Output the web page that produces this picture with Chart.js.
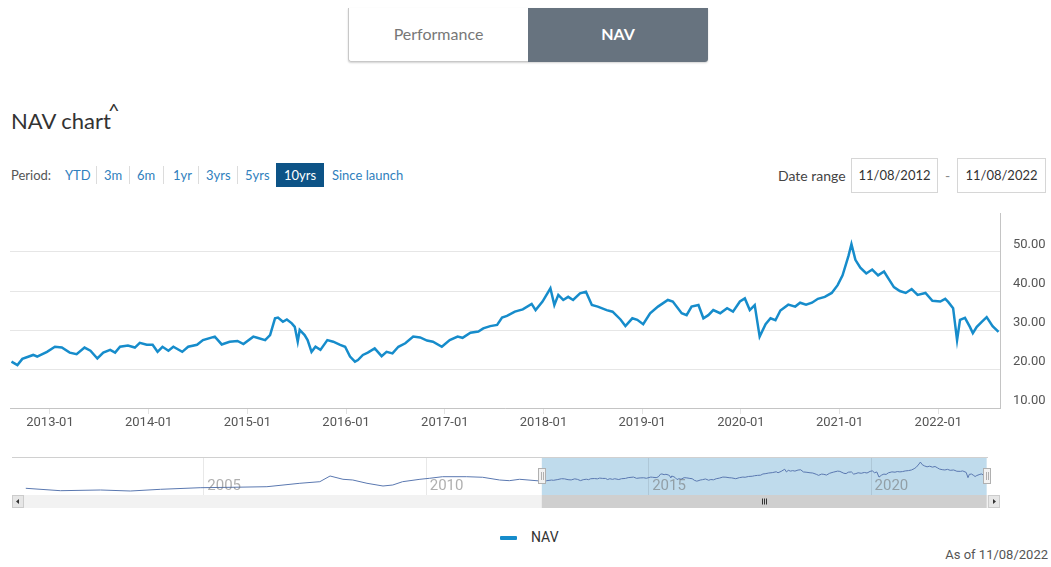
<!DOCTYPE html>
<html>
<head>
<meta charset="utf-8">
<title>NAV chart</title>
<script src="https://cdn.jsdelivr.net/npm/chart.js@4.4.0/dist/chart.umd.min.js"></script>
<style>
  body { margin: 0; width: 1051px; height: 567px; overflow: hidden; background: #fff; position: relative; font-family: Lato, "Open Sans", sans-serif; }
  .abs { position: absolute; white-space: nowrap; }
  .tab { position: absolute; top: 0; height: 54px; width: 180px; line-height: 52px; text-align: center; font-size: 16px; box-sizing: border-box; }
  .period { position: absolute; top: 165px; height: 20px; line-height: 20px; font-size: 13px; color: #2f80bd; white-space: nowrap; }
  .sep { position: absolute; top: 166px; width: 1px; height: 18px; background: #dcdcdc; }
  .datebox { position: absolute; top: 158px; height: 35px; box-sizing: border-box; border: 1px solid #d6d6d6; line-height: 33px; text-align: center; font-size: 13px; color: #333; }
  .narrow { font-family: Roboto, "Liberation Sans", sans-serif; }
  canvas { position: absolute; left: 0; }
</style>
</head>
<body>

<!-- tabs -->
<div class="abs" style="left:348px; top:8px; width:360px; height:54px; box-shadow:0 1px 2px rgba(0,0,0,0.18); border-radius:0 0 3px 3px;">
  <div class="tab" style="left:0; background:#fff; color:#777; border:1px solid #c8c8c8; border-top:none; border-right:none; border-radius:0 0 0 3px;">Performance</div>
  <div class="tab" style="left:180px; background:#67737f; color:#fff; font-weight:bold; border-radius:0 0 3px 0;">NAV</div>
</div>

<!-- title -->
<div class="abs" style="left:11px; top:110px; font-size:22px; line-height:22px; color:#333;">NAV chart</div>
<div class="abs" style="left:108px; top:100px; font-size:20px; line-height:20px; color:#333;">^</div>

<!-- period selector -->
<div class="period" style="left:11px; color:#555;">Period:</div>
<div class="period" style="left:65px;">YTD</div>
<div class="sep" style="left:96px;"></div>
<div class="period" style="left:104px;">3m</div>
<div class="sep" style="left:129px;"></div>
<div class="period" style="left:137px;">6m</div>
<div class="sep" style="left:163px;"></div>
<div class="period" style="left:173px;">1yr</div>
<div class="sep" style="left:198px;"></div>
<div class="period" style="left:206px;">3yrs</div>
<div class="sep" style="left:237px;"></div>
<div class="period" style="left:245px;">5yrs</div>
<div class="period" style="left:276px; top:163px; height:24px; line-height:24px; width:48px; text-align:center; background:#0d5386; color:#fff;">10yrs</div>
<div class="period" style="left:332px;">Since launch</div>

<!-- date range -->
<div class="abs" style="left:778px; top:166px; font-size:14px; line-height:20px; color:#444;">Date range</div>
<div class="datebox" style="left:851px; width:87px;">11/08/2012</div>
<div class="abs" style="left:945px; top:166px; font-size:14px; line-height:20px; color:#888;">-</div>
<div class="datebox" style="left:957px; width:89px;">11/08/2022</div>

<canvas id="navChart" width="1051" height="235" style="top:205px;"></canvas>
<canvas id="navigator" width="1051" height="60" style="top:450px;"></canvas>

<!-- legend -->
<div class="abs" style="left:500px; top:536px; width:17px; height:4px; background:#168ccb; border-radius:1px;"></div>
<div class="abs narrow" style="left:531px; top:528px; font-size:14px; line-height:18px; color:#333;">NAV</div>
<div class="abs narrow" style="right:3px; top:546px; font-size:13px; line-height:18px; color:#555;">As of 11/08/2022</div>

<script>
const AXIS_FONT = 'Roboto, "Liberation Sans", sans-serif';

////////////////// Data ////////////////
// NAV for the 10yr window (x = decimal year)
const navYears = [
  2012.61, 2012.67, 2012.72, 2012.83, 2012.87, 2012.97, 2013.05, 2013.12, 2013.20, 2013.27,
  2013.35, 2013.41, 2013.48, 2013.54, 2013.61, 2013.66, 2013.71, 2013.79, 2013.86, 2013.91,
  2013.98, 2014.04, 2014.09, 2014.14, 2014.20, 2014.25, 2014.34, 2014.40, 2014.49, 2014.55,
  2014.67, 2014.74, 2014.82, 2014.90, 2014.96, 2015.06, 2015.10, 2015.18, 2015.23, 2015.28,
  2015.31, 2015.36, 2015.40, 2015.45, 2015.48, 2015.51, 2015.53, 2015.58, 2015.61, 2015.65,
  2015.69, 2015.74, 2015.81, 2015.87, 2015.94, 2015.99, 2016.04, 2016.09, 2016.12, 2016.17,
  2016.22, 2016.29, 2016.36, 2016.41, 2016.47, 2016.53, 2016.60, 2016.68, 2016.75, 2016.82,
  2016.88, 2016.97, 2017.05, 2017.13, 2017.18, 2017.26, 2017.34, 2017.39, 2017.46, 2017.53,
  2017.58, 2017.63, 2017.71, 2017.79, 2017.88, 2017.92, 2017.99, 2018.07, 2018.11, 2018.15,
  2018.20, 2018.25, 2018.30, 2018.37, 2018.43, 2018.49, 2018.55, 2018.64, 2018.70, 2018.78,
  2018.83, 2018.90, 2018.95, 2019.01, 2019.08, 2019.16, 2019.26, 2019.31, 2019.40, 2019.45,
  2019.50, 2019.57, 2019.62, 2019.67, 2019.72, 2019.79, 2019.86, 2019.92, 2019.99, 2020.04,
  2020.09, 2020.14, 2020.19, 2020.25, 2020.30, 2020.35, 2020.40, 2020.48, 2020.55, 2020.60,
  2020.66, 2020.72, 2020.78, 2020.85, 2020.92, 2020.98, 2021.03, 2021.09, 2021.12, 2021.16,
  2021.21, 2021.27, 2021.33, 2021.39, 2021.45, 2021.50, 2021.55, 2021.61, 2021.67, 2021.73,
  2021.79, 2021.87, 2021.94, 2022.02, 2022.07, 2022.10, 2022.15, 2022.19, 2022.22, 2022.27,
  2022.32, 2022.35, 2022.39, 2022.44, 2022.49, 2022.55, 2022.61
];
const navValues = [
  21.9, 21.0, 22.6, 23.6, 23.2, 24.4, 25.7, 25.5, 24.2, 23.8,
  25.5, 24.7, 22.7, 24.2, 24.9, 24.2, 25.7, 26.0, 25.5, 26.7,
  26.2, 26.2, 24.4, 25.7, 24.7, 25.7, 24.4, 25.7, 26.2, 27.4,
  28.3, 26.3, 27.0, 27.2, 26.4, 28.3, 28.0, 27.4, 28.7, 33.0,
  33.2, 32.1, 32.7, 31.7, 30.8, 27.0, 30.0, 28.7, 27.4, 24.4,
  25.7, 24.9, 27.4, 27.0, 26.2, 25.7, 23.2, 21.9, 22.3, 23.6,
  24.2, 25.3, 23.3, 24.4, 24.0, 25.7, 26.6, 28.3, 28.1, 27.3,
  27.0, 25.7, 27.4, 28.3, 28.0, 29.3, 29.6, 30.4, 31.0, 31.3,
  33.2, 33.6, 34.7, 35.3, 36.7, 35.1, 37.3, 40.7, 36.4, 39.0,
  37.7, 38.5, 37.7, 39.4, 39.8, 36.4, 36.0, 35.1, 34.7, 32.7,
  31.0, 33.0, 32.6, 31.5, 34.3, 36.0, 37.7, 37.3, 34.3, 33.8,
  36.0, 36.4, 33.0, 33.8, 35.1, 34.3, 35.6, 34.7, 37.3, 38.1,
  35.1, 36.4, 28.3, 31.5, 33.0, 32.5, 35.0, 36.5, 36.0, 37.0,
  36.5, 37.0, 38.0, 38.5, 39.5, 41.5, 44.0, 49.0, 52.0, 48.0,
  46.0, 44.5, 45.5, 44.0, 45.0, 43.0, 41.0, 40.0, 39.5, 40.5,
  39.0, 39.5, 37.5, 37.3, 38.0, 37.2, 35.6, 27.4, 32.6, 33.1,
  30.8, 29.2, 30.8, 32.1, 33.3, 31.0, 29.5
];
// earlier history, only shown in the navigator
const historyYears = [
  2001.01, 2001.79, 2002.69, 2003.36, 2004.04, 2004.93, 2005.67, 2006.43, 2007.17, 2007.62,
  2007.85, 2008.14, 2008.36, 2008.68, 2009.04, 2009.26, 2009.48, 2009.87, 2010.09, 2010.38,
  2010.92, 2011.28, 2011.66, 2011.88, 2012.11
];
const historyValues = [
  10.6, 6.8, 7.9, 6.3, 9.0, 11.5, 12.2, 13.1, 18.5, 21.0,
  30.0, 24.8, 23.7, 18.5, 14.2, 15.8, 21.0, 24.8, 26.4, 28.9,
  28.9, 28.0, 23.7, 22.6, 24.8
];
const yearTicks = [2013, 2014, 2015, 2016, 2017, 2018, 2019, 2020, 2021, 2022];
const valueTicks = [10, 20, 30, 40, 50];
const navigatorTicks = [2005, 2010, 2015, 2020];

const toPoints = (xs, ys) => xs.map((x, i) => ({ x: x, y: ys[i] }));

////////////////// Main chart ////////////////
const mainChart = new Chart(document.getElementById('navChart'), {
  type: 'line',
  data: {
    datasets: [{
      label: 'NAV',
      data: toPoints(navYears, navValues),
      borderColor: '#168ccb',
      borderWidth: 2.5,
      pointRadius: 0,
      tension: 0
    }]
  },
  options: {
    responsive: false,
    animation: false,
    events: [],
    layout: { padding: { left: 10, top: 8, right: 0, bottom: 0 } },
    plugins: { legend: { display: false }, tooltip: { enabled: false } },
    scales: {
      x: {
        type: 'linear',
        min: 2012.595,
        max: 2022.625,
        afterBuildTicks: s => { s.ticks = yearTicks.map(v => ({ value: v })); },
        afterFit: s => { s.height = 32; s.paddingLeft = 0; s.paddingRight = 0; },
        grid: { drawOnChartArea: false, tickLength: 6, color: '#e3e3e3' },
        border: { color: '#c4c4c4' },
        ticks: {
          autoSkip: false, maxRotation: 0, padding: 1, color: '#555',
          font: { family: AXIS_FONT, size: 13 },
          callback: v => v + '-01'
        }
      },
      y: {
        position: 'right',
        min: 10,
        max: 60,
        afterBuildTicks: s => { s.ticks = valueTicks.map(v => ({ value: v })); },
        afterFit: s => { s.width = 51; s.paddingTop = 0; s.paddingBottom = 0; },
        grid: { color: '#e6e6e6', drawTicks: false },
        border: { color: '#c4c4c4' },
        ticks: {
          padding: 13, crossAlign: 'near', labelOffset: -7, color: '#555',
          font: { family: AXIS_FONT, size: 13 },
          callback: v => v.toFixed(2)
        }
      }
    }
  }
});

////////////////// Navigator ////////////////
const selStart = navYears[0];
const selEnd = navYears[navYears.length - 1];

const navigatorDecor = {
  id: 'navigatorDecor',
  beforeDatasetsDraw(chart) {
    const { ctx, chartArea: a, scales: { x } } = chart;
    const x1 = x.getPixelForValue(selStart), x2 = x.getPixelForValue(selEnd);
    ctx.save();
    ctx.fillStyle = 'rgba(102,170,210,0.42)';
    ctx.fillRect(x1, a.top, x2 - x1, a.bottom - a.top);
    ctx.strokeStyle = 'rgba(0,0,0,0.09)';
    ctx.lineWidth = 1;
    navigatorTicks.forEach(t => {
      const px = Math.round(x.getPixelForValue(t)) + 0.5;
      ctx.beginPath(); ctx.moveTo(px, a.top); ctx.lineTo(px, a.bottom); ctx.stroke();
    });
    ctx.restore();
  },
  afterDatasetsDraw(chart) {
    const { ctx, chartArea: a, scales: { x } } = chart;
    const x1 = x.getPixelForValue(selStart), x2 = x.getPixelForValue(selEnd);
    ctx.save();
    // year labels
    ctx.font = '15px ' + AXIS_FONT;
    ctx.fillStyle = 'rgba(110,110,110,0.55)';
    ctx.textBaseline = 'middle';
    navigatorTicks.forEach(t => ctx.fillText(String(t), x.getPixelForValue(t) + 4, a.bottom - 9));
    // outline
    ctx.strokeStyle = '#d0d0d0';
    ctx.beginPath(); ctx.moveTo(a.left, a.top + 0.5); ctx.lineTo(a.right, a.top + 0.5); ctx.stroke();
    // handles
    const midY = (a.top + a.bottom) / 2;
    [x1, x2].forEach(px => {
      ctx.fillStyle = '#f2f2f2';
      ctx.strokeStyle = '#b0b0b0';
      ctx.fillRect(Math.round(px) - 3.5, midY - 7.5, 7, 15);
      ctx.strokeRect(Math.round(px) - 3.5, midY - 7.5, 7, 15);
      ctx.beginPath();
      ctx.moveTo(Math.round(px) - 1 + 0.5, midY - 4); ctx.lineTo(Math.round(px) - 1 + 0.5, midY + 4);
      ctx.moveTo(Math.round(px) + 1 + 0.5, midY - 4); ctx.lineTo(Math.round(px) + 1 + 0.5, midY + 4);
      ctx.stroke();
    });
    // scrollbar
    const sy = a.bottom, sh = 13;
    ctx.fillStyle = '#f2f2f2';
    ctx.fillRect(a.left, sy, a.right + 12 - a.left, sh);
    ctx.fillStyle = '#cfcfcf';
    ctx.fillRect(x1, sy, x2 - x1, sh);
    ctx.fillStyle = '#e6e6e6';
    ctx.fillRect(a.left, sy, 12, sh);
    ctx.fillRect(a.right, sy, 12, sh);
    ctx.strokeStyle = '#cccccc';
    ctx.strokeRect(a.left + 0.5, sy + 0.5, 11, sh - 1);
    ctx.strokeRect(a.right + 0.5, sy + 0.5, 11, sh - 1);
    ctx.fillStyle = '#333';
    ctx.beginPath();
    ctx.moveTo(a.left + 4, sy + 6.5); ctx.lineTo(a.left + 7, sy + 4); ctx.lineTo(a.left + 7, sy + 9); ctx.closePath(); ctx.fill();
    ctx.beginPath();
    ctx.moveTo(a.right + 8, sy + 6.5); ctx.lineTo(a.right + 5, sy + 4); ctx.lineTo(a.right + 5, sy + 9); ctx.closePath(); ctx.fill();
    const gx = Math.round((x1 + x2) / 2);
    ctx.strokeStyle = '#333';
    [-2, 0, 2].forEach(d => {
      ctx.beginPath(); ctx.moveTo(gx + d + 0.5, sy + 3.5); ctx.lineTo(gx + d + 0.5, sy + 9.5); ctx.stroke();
    });
    ctx.restore();
  }
};

const navigatorChart = new Chart(document.getElementById('navigator'), {
  type: 'line',
  data: {
    datasets: [{
      data: toPoints(historyYears.concat(navYears), historyValues.concat(navValues)),
      borderColor: '#5a78b0',
      borderWidth: 1,
      pointRadius: 0,
      tension: 0
    }]
  },
  options: {
    responsive: false,
    animation: false,
    events: [],
    layout: { padding: { left: 12, right: 63, top: 7, bottom: 15 } },
    plugins: { legend: { display: false }, tooltip: { enabled: false } },
    scales: {
      x: { type: 'linear', display: false, min: 2000.7, max: 2022.64 },
      y: { display: false, min: 0, max: 60 }
    }
  },
  plugins: [navigatorDecor]
});
</script>
</body>
</html>
